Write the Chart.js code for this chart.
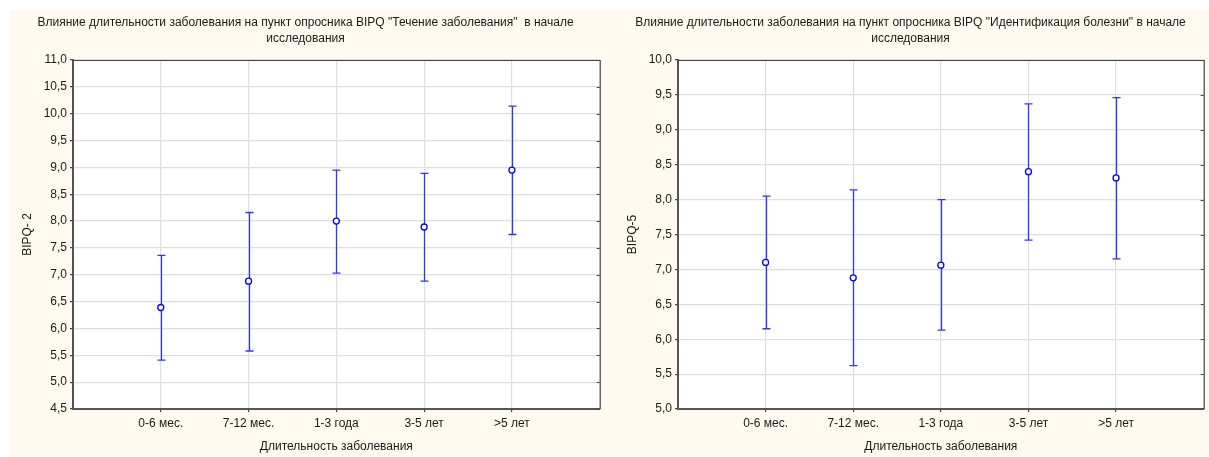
<!DOCTYPE html>
<html><head><meta charset="utf-8">
<script src="https://cdn.jsdelivr.net/npm/chart.js@4"></script>
<style>
html,body{margin:0;padding:0;background:#fff;width:1209px;height:457px;overflow:hidden}
#bg{position:absolute;left:10px;top:10px;width:1199px;height:447px;background:#fffaf0}
canvas{position:absolute;top:10px}
#c1{left:10px;width:595px;height:447px}
#c2{left:615px;width:594px;height:447px}
</style></head><body>
<div id="bg"></div>
<canvas id="c1" width="595" height="447"></canvas>
<canvas id="c2" width="594" height="447"></canvas>
<script>
const categories = ['0-6 мес.', '7-12 мес.', '1-3 года', '3-5 лет', '>5 лет'];

const title1 = ['Влияние длительности заболевания на пункт опросника BIPQ "Течение заболевания"  в начале', 'исследования'];
const yTitle1 = 'BIPQ- 2';
const mean1 = [6.39, 6.88, 8.00, 7.89, 8.95];
const upper1 = [7.36, 8.16, 8.95, 8.89, 10.14];
const lower1 = [5.41, 5.58, 7.03, 6.88, 7.75];
const yMin1 = 4.5, yMax1 = 11.0;

const title2 = ['Влияние длительности заболевания на пункт опросника BIPQ "Идентификация болезни" в начале', 'исследования'];
const yTitle2 = 'BIPQ-5';
const mean2 = [7.10, 6.88, 7.06, 8.40, 8.31];
const upper2 = [8.05, 8.14, 8.00, 9.37, 9.46];
const lower2 = [6.15, 5.62, 6.13, 7.42, 7.15];
const yMin2 = 5.0, yMax2 = 10.0;

const xTitle = 'Длительность заболевания';
const yStep = 0.5;

const FONT = "'Liberation Sans', Arial, sans-serif";
const TXT = '#1a1a1a';
const FS = 12;

const framePlugin = {
  id: 'frame',
  beforeDraw(chart) {
    const {ctx, chartArea: a} = chart;
    ctx.save();
    ctx.fillStyle = '#ffffff';
    ctx.fillRect(a.left, a.top, a.right - a.left, a.bottom - a.top);
    ctx.restore();
  },
  beforeDatasetsDraw(chart) {
    const {ctx, scales: {x, y}} = chart;
    chart.data.datasets.forEach(ds => {
      ctx.save();
      ctx.strokeStyle = '#3333ff';
      ctx.lineWidth = 1.3;
      ds.data.forEach((p, i) => {
        const px = Math.round(x.getPixelForValue(p.x)) + 0.5;
        const yt = y.getPixelForValue(ds.errHigh[i]);
        const yb = y.getPixelForValue(ds.errLow[i]);
        ctx.beginPath();
        ctx.moveTo(px, yt); ctx.lineTo(px, yb);
        ctx.moveTo(px - 4, yt); ctx.lineTo(px + 4, yt);
        ctx.moveTo(px - 4, yb); ctx.lineTo(px + 4, yb);
        ctx.stroke();
      });
      ctx.restore();
    });
  },
  afterDraw(chart) {
    const {ctx, chartArea: a, scales: {y}} = chart;
    ctx.save();
    ctx.strokeStyle = '#444';
    ctx.lineWidth = 1.2;
    ctx.beginPath();
    ctx.moveTo(a.left, a.top + 0.5); ctx.lineTo(a.right + 0.5, a.top + 0.5);
    ctx.lineTo(a.right + 0.5, a.bottom);
    ctx.stroke();
    ctx.beginPath();
    y.ticks.forEach(t => {
      const py = Math.round(y.getPixelForValue(t.value)) + 0.5;
      ctx.moveTo(a.right - 3, py); ctx.lineTo(a.right, py);
    });
    ctx.stroke();
    ctx.restore();
  }
};

function makeChart(id, titleLines, yTitle, means, ups, lows, yMin, yMax, padRight) {
  return new Chart(document.getElementById(id), {
    type: 'scatter',
    data: {
      datasets: [{
        data: means.map((v, i) => ({x: i + 1, y: v})),
        errHigh: ups,
        errLow: lows,
        pointRadius: 3,
        pointBorderWidth: 1.3,
        pointBorderColor: '#0000ff',
        pointBackgroundColor: '#ffffff',
        showLine: false
      }]
    },
    options: {
      responsive: false,
      animation: false,
      layout: {padding: {left: 0, right: padRight, top: 0, bottom: 0}},
      plugins: {
        legend: {display: false},
        tooltip: {enabled: false},
        title: {
          display: true,
          text: titleLines,
          color: TXT,
          font: {family: FONT, size: FS, lineHeight: '16px', weight: 'normal'},
          padding: {top: 5, bottom: 13}
        }
      },
      scales: {
        x: {
          type: 'linear',
          min: 0, max: 6,
          afterBuildTicks: s => { s.ticks = categories.map((c, i) => ({value: i + 1})); },
          afterFit: s => { s.height = 48; },
          ticks: {
            callback: v => categories[v - 1] || '',
            color: TXT, font: {family: FONT, size: FS},
            autoSkip: false, maxRotation: 0, padding: 4
          },
          grid: {color: '#dedede', lineWidth: 1.2, tickLength: 3, tickColor: '#444'},
          border: {color: '#555', width: 2},
          title: {display: true, text: xTitle, color: TXT, font: {family: FONT, size: FS}, padding: {top: 0, bottom: 3}}
        },
        y: {
          min: yMin, max: yMax,
          afterFit: s => { s.width = 63; },
          ticks: {
            stepSize: yStep,
            callback: v => v.toFixed(1).replace('.', ','),
            color: TXT, font: {family: FONT, size: FS}, padding: 3
          },
          grid: {color: '#dedede', lineWidth: 1.2, tickLength: 3, tickColor: '#444'},
          border: {color: '#555', width: 2},
          title: {display: true, text: yTitle, color: TXT, font: {family: FONT, size: FS}, padding: {top: 10, bottom: 0}}
        }
      }
    },
    plugins: [framePlugin]
  });
}

makeChart('c1', title1, yTitle1, mean1, upper1, lower1, yMin1, yMax1, 4);
makeChart('c2', title2, yTitle2, mean2, upper2, lower2, yMin2, yMax2, 3);
</script>
</body></html>
